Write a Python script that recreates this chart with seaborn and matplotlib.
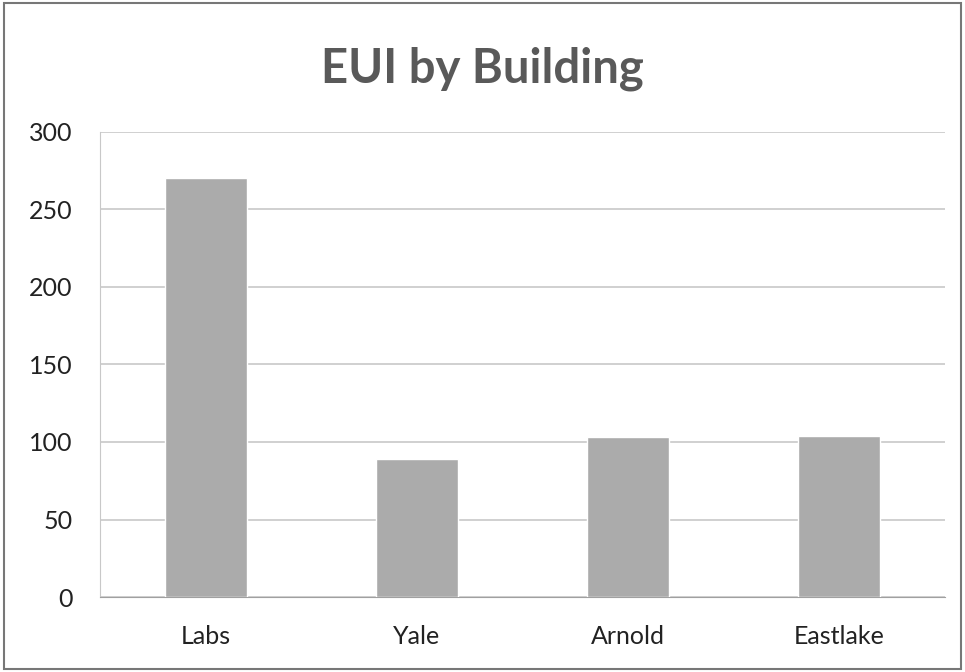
import matplotlib
matplotlib.use("Agg")
import matplotlib.pyplot as plt
import seaborn as sns
import pandas as pd

# data
buildings = ["Labs", "Yale", "Arnold", "Eastlake"]
eui = [270, 89, 103, 104]

sns.set_style("white")
plt.rcParams['font.family'] = ['Lato', 'DejaVu Sans']

df = pd.DataFrame({"building": buildings, "eui": eui})

fig = plt.figure(figsize=(9.65, 6.72), dpi=100)
ax = fig.add_axes([0.104, 0.1116, 0.875, 0.692])

sns.barplot(data=df, x="building", y="eui", color="#ababab", saturation=1,
            width=0.39, ax=ax, zorder=3)

ax.set_ylim(0, 300)
ax.set_yticks(range(0, 301, 50))
ax.yaxis.grid(True, color="#c8c8c8", linewidth=1.2, zorder=0)
ax.set_axisbelow(True)
ax.set_xlabel("")
ax.set_ylabel("")
ax.tick_params(axis="both", labelsize=18, colors="#222222", length=0)
ax.tick_params(axis="x", pad=20)
ax.tick_params(axis="y", pad=20)
for s in ["top", "right"]:
    ax.spines[s].set_visible(False)
ax.spines["left"].set_color("#c8c8c8")
ax.spines["bottom"].set_color("#a0a0a0")

fig.text(0.5, 0.897, "EUI by Building", ha="center", va="center",
         fontsize=34, fontweight="bold", color="#595959")

# outer chart frame
fig.patches.append(plt.Rectangle((0.004, 0.004), 0.992, 0.992, transform=fig.transFigure,
                                 fill=False, edgecolor="#777777", linewidth=1.5))

fig.savefig("out.png", dpi=100)
